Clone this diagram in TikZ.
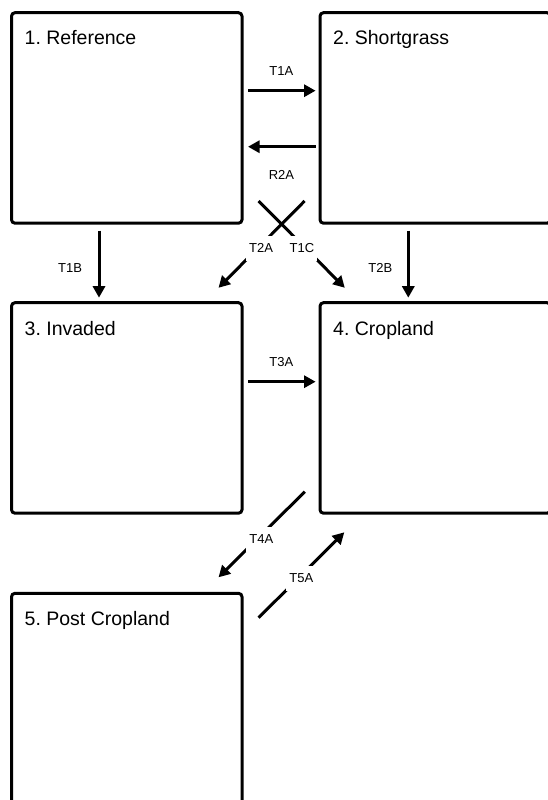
\documentclass[tikz,border=0pt]{standalone}
\usepackage{fontspec}
\setmainfont{Liberation Sans}
\usetikzlibrary{arrows.meta}
\frenchspacing
\begin{document}
\begin{tikzpicture}[x=1pt,y=1pt,
  statebox/.style={draw=black, line width=3pt, rounded corners=3.5pt, minimum width=230.5pt, minimum height=210.5pt, inner sep=0pt, outer sep=0pt, anchor=north west},
  title/.style={anchor=base west, font=\fontsize{19.5}{22}\selectfont, inner sep=0pt},
  arr/.style={line width=3pt, -{Triangle[length=11.5pt,width=12pt]}},
  lbl/.style={font=\fontsize{13}{15}\selectfont, inner sep=0pt},
  gaplbl/.style={lbl, fill=white, inner xsep=3pt, inner ysep=8pt}]
\useasboundingbox (0,0) rectangle (548,-800);
\fill[white] (0,0) rectangle (548,-800);
% boxes
\node[statebox] (b1) at (11.5,-12.7) {};
\node[statebox] (b2) at (320,-12.7) {};
\node[statebox] (b3) at (11.5,-302.7) {};
\node[statebox] (b4) at (320,-302.7) {};
\node[statebox] (b5) at (11.5,-593.3) {};
% titles
\node[title] (t1) at ([shift={(13,-32.3)}]b1.north west) {1. Reference};
\node[title] (t2) at ([shift={(13,-32.3)}]b2.north west) {2. Shortgrass};
\node[title] (t3) at ([shift={(13,-32.3)}]b3.north west) {3. Invaded};
\node[title] (t4) at ([shift={(13,-32.3)}]b4.north west) {4. Cropland};
\node[title] (t5) at ([shift={(13,-32.3)}]b5.north west) {5. Post Cropland};
% connector end points
\coordinate (a1As) at (248,-90.7);   \coordinate (a1Ae) at (315.6,-90.7);
\coordinate (r2As) at (315.6,-146.7); \coordinate (r2Ae) at (248,-146.7);
\coordinate (a1Bs) at (99,-230.7);   \coordinate (a1Be) at (99,-297.7);
\coordinate (a2Bs) at (408.3,-230.7); \coordinate (a2Be) at (408.3,-297.7);
\coordinate (a2As) at (304.6,-201);  \coordinate (a2Ae) at (218.5,-287.8);
\coordinate (a1Cs) at (258.6,-201);  \coordinate (a1Ce) at (344.8,-287.8);
\coordinate (a3As) at (248,-381.7);  \coordinate (a3Ae) at (315.6,-381.7);
\coordinate (a4As) at (304.8,-491.7); \coordinate (a4Ae) at (218.5,-577.3);
\coordinate (a5As) at (258.6,-617.7); \coordinate (a5Ae) at (344.3,-532.3);
% connectors
\draw[arr] (a1As) -- (a1Ae);
\draw[arr] (r2As) -- (r2Ae);
\draw[arr] (a1Bs) -- (a1Be);
\draw[arr] (a2Bs) -- (a2Be);
\draw[arr] (a2As) -- (a2Ae);
\draw[arr] (a1Cs) -- (a1Ce);
\draw[arr] (a3As) -- (a3Ae);
\draw[arr] (a4As) -- (a4Ae);
\draw[arr] (a5As) -- (a5Ae);
% labels
\node[lbl] (l1A) at (281.4,-71.3) {T1A};
\node[lbl] (lR2A) at (281.4,-174.7) {R2A};
\node[lbl] (l1B) at (70,-268.3) {T1B};
\node[lbl] (l2B) at (380.3,-268.3) {T2B};
\node[lbl] (l3A) at (281.4,-362.3) {T3A};
\node[gaplbl] (l2A) at (261,-248.3) {T2A};
\node[gaplbl] (l1C) at (302,-248.3) {T1C};
\node[gaplbl] (l4A) at (261.4,-539.3) {T4A};
\node[gaplbl] (l5A) at (301.3,-578.3) {T5A};
\end{tikzpicture}
\end{document}
